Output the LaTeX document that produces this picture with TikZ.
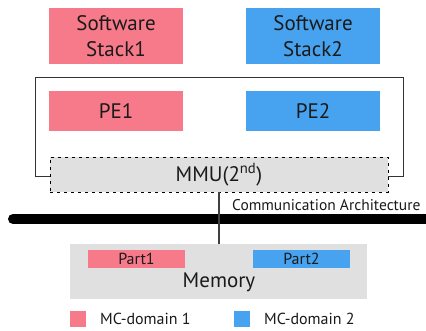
\documentclass[tikz,border=0pt]{standalone}
\usepackage{fontspec}
\setmainfont{PT Sans}
\definecolor{pinkc}{HTML}{F77A8B}
\definecolor{bluec}{HTML}{47A3F0}
\definecolor{grayc}{HTML}{E0E0E0}
\definecolor{txt}{HTML}{1A1A1A}
\begin{document}
\begin{tikzpicture}[x=1pt,y=-1pt,
  box/.style={rectangle,inner sep=0pt,text=txt,font=\fontsize{21}{26}\selectfont,align=center},
  part/.style={rectangle,inner sep=0pt,text=txt,font=\fontsize{16}{18}\selectfont,minimum width=97pt,minimum height=18pt},
  legsq/.style={rectangle,inner sep=0pt,minimum size=16pt},
  legtxt/.style={anchor=west,inner sep=0pt,text=txt,font=\fontsize{16}{18}\selectfont}]
\useasboundingbox (0,0) rectangle (426,331);
% software stacks
\node[box,fill=pinkc,minimum width=134pt,minimum height=56pt] (s1) at (116,36) {Software\\Stack1};
\node[box,fill=bluec,minimum width=134pt,minimum height=56pt] (s2) at (313,36) {Software\\Stack2};
% outer box
\draw[line width=1pt,draw=black!80] (35,78) rectangle (403,177);
\node[box,fill=pinkc,minimum width=134pt,minimum height=40pt] (pe1) at (116,111) {PE1};
\node[box,fill=bluec,minimum width=134pt,minimum height=40pt] (pe2) at (313,111) {PE2};
\node[box,fill=grayc,draw=black,dashed,line width=0.8pt,dash pattern=on 3pt off 4pt,minimum width=338pt,minimum height=35pt] (mmu) at (219,174.5) {MMU(2\textsuperscript{nd})};
% bus
\coordinate (busl) at (13,219);
\coordinate (busr) at (440,219);
\draw[line width=10pt,line cap=round] (busl) -- (busr);
\node[anchor=west,inner sep=0pt,text=txt,font=\fontsize{15.5}{17}\selectfont] (comm) at (232,205) {Communication Architecture};
% memory
\node[box,fill=grayc,minimum width=297pt,minimum height=55pt] (mem) at (218.5,271.5) {};
\node[box] (memt) at (219,282) {Memory};
\node[part,fill=pinkc] (p1) at (136.5,259) {Part1};
\node[part,fill=bluec] (p2) at (301.5,259) {Part2};
\draw[line width=1.3pt,draw=black!75] (mmu.south) -- (mmu.south |- mem.north);
% legend
\node[legsq,fill=pinkc] (l1) at (78,319) {};
\node[legtxt] (l1t) at (100,319) {MC-domain 1};
\node[legsq,fill=bluec] (l2) at (242,319) {};
\node[legtxt] (l2t) at (264,319) {MC-domain 2};
\end{tikzpicture}
\end{document}
